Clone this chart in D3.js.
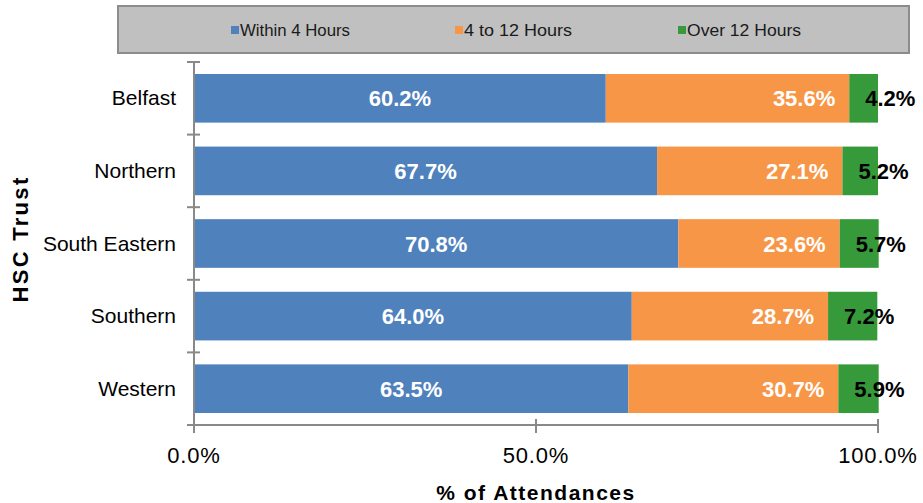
<!DOCTYPE html>
<html>
<head>
<meta charset="utf-8">
<script src="https://cdn.jsdelivr.net/npm/d3@7/dist/d3.min.js"></script>
<style>
  html, body { margin: 0; padding: 0; background: #ffffff; }
  svg { display: block; font-family: "Liberation Sans", Arial, sans-serif; }
</style>
</head>
<body>
<svg id="chart" width="923" height="503"></svg>
<script>
// HSC Trust attendances by time spent in the emergency department
const trusts = ["Belfast", "Northern", "South Eastern", "Southern", "Western"];
const seriesNames = ["Within 4 Hours", "4 to 12 Hours", "Over 12 Hours"];
const within4 = [60.2, 67.7, 70.8, 64.0, 63.5];
const from4to12 = [35.6, 27.1, 23.6, 28.7, 30.7];
const over12 = [4.2, 5.2, 5.7, 7.2, 5.9];
const xTicks = [0, 50, 100];
const colors = ["#4f81bd", "#f79646", "#36993a"];

const rows = trusts.map((t, i) => ({
  trust: t,
  "Within 4 Hours": within4[i],
  "4 to 12 Hours": from4to12[i],
  "Over 12 Hours": over12[i]
}));

const svg = d3.select("#chart");
const margin = { left: 194, right: 45, top: 62, bottom: 78 };
const W = 923, H = 503;

const x = d3.scaleLinear().domain([0, 100]).range([margin.left, W - margin.right]);
const y = d3.scaleBand().domain(trusts).range([margin.top, H - margin.bottom]).paddingInner(0.33).paddingOuter(0.165);
const color = d3.scaleOrdinal().domain(seriesNames).range(colors);

const stacked = d3.stack().keys(seriesNames)(rows);

// legend box
const legend = svg.append("g");
legend.append("rect")
  .attr("x", 118).attr("y", 6).attr("width", 791).attr("height", 47)
  .attr("fill", "#c0c0c0").attr("stroke", "#8c8c8c").attr("stroke-width", 2);
const legendX = [231, 455, 678];
seriesNames.forEach((name, i) => {
  legend.append("rect")
    .attr("x", legendX[i]).attr("y", 26).attr("width", 8).attr("height", 8)
    .attr("fill", color(name));
  legend.append("text")
    .attr("x", legendX[i] + 9).attr("y", 36)
    .attr("font-size", 16)
    .attr("fill", "#1a1a1a")
    .attr("textLength", [110, 108, 114][i])
    .attr("lengthAdjust", "spacingAndGlyphs")
    .text(name);
});

// stacked bars
const layers = svg.append("g").selectAll("g").data(stacked).join("g")
  .attr("fill", d => color(d.key));
layers.selectAll("rect").data(d => d).join("rect")
  .attr("x", d => x(d[0]))
  .attr("y", d => y(d.data.trust))
  .attr("width", d => x(d[1]) - x(d[0]))
  .attr("height", y.bandwidth());

// axes
const axisColor = "#898989";
const yAxis = svg.append("g");
yAxis.append("line")
  .attr("x1", x(0)).attr("x2", x(0))
  .attr("y1", margin.top).attr("y2", H - margin.bottom)
  .attr("stroke", axisColor).attr("stroke-width", 2);
const yBounds = trusts.map(t => y(t) - y.step() * y.paddingInner() / 2);
yBounds.push(H - margin.bottom);
yBounds[0] = margin.top;
yAxis.selectAll("line.tick").data(yBounds).join("line")
  .attr("class", "tick")
  .attr("x1", x(0) - 7).attr("x2", x(0) + 6)
  .attr("y1", d => d).attr("y2", d => d)
  .attr("stroke", axisColor).attr("stroke-width", 2);
yAxis.selectAll("text").data(trusts).join("text")
  .attr("x", x(0) - 18)
  .attr("y", d => y(d) + y.bandwidth() / 2 + 7)
  .attr("text-anchor", "end")
  .attr("font-size", 21)
  .attr("fill", "#000")
  .text(d => d);

const xAxis = svg.append("g");
xAxis.append("line")
  .attr("x1", x(0)).attr("x2", x(100))
  .attr("y1", H - margin.bottom).attr("y2", H - margin.bottom)
  .attr("stroke", axisColor).attr("stroke-width", 2);
xAxis.selectAll("line.tick").data(xTicks).join("line")
  .attr("class", "tick")
  .attr("x1", d => x(d)).attr("x2", d => x(d))
  .attr("y1", H - margin.bottom - 6).attr("y2", H - margin.bottom + 8)
  .attr("stroke", axisColor).attr("stroke-width", 2);
xAxis.selectAll("text").data(xTicks).join("text")
  .attr("x", d => x(d))
  .attr("y", 463)
  .attr("text-anchor", "middle")
  .attr("font-size", 22)
  .attr("letter-spacing", 0.8)
  .attr("fill", "#000")
  .text(d => d.toFixed(1) + "%");

// axis titles
svg.append("text")
  .attr("x", x(50)).attr("y", 500)
  .attr("text-anchor", "middle")
  .attr("font-size", 21).attr("font-weight", "bold")
  .attr("letter-spacing", 1.5)
  .text("% of Attendances");
svg.append("text")
  .attr("transform", "translate(28, 239) rotate(-90)")
  .attr("text-anchor", "middle")
  .attr("font-size", 22).attr("font-weight", "bold")
  .attr("letter-spacing", 2.3)
  .text("HSC Trust");

// value labels
const labels = svg.append("g").attr("font-size", 22).attr("font-weight", "bold");
stacked.forEach((layer, si) => {
  labels.selectAll(null).data(layer).join("text")
    .attr("x", d => si === 0 ? (x(d[0]) + x(d[1])) / 2 : si === 1 ? x(d[1]) - 14 : x(d[0]) + 16)
    .attr("y", d => y(d.data.trust) + y.bandwidth() / 2 + 8)
    .attr("text-anchor", si === 0 ? "middle" : si === 1 ? "end" : "start")
    .attr("fill", si === 2 ? "#000" : "#fff")
    .text(d => (d[1] - d[0]).toFixed(1) + "%");
});
</script>
</body>
</html>
